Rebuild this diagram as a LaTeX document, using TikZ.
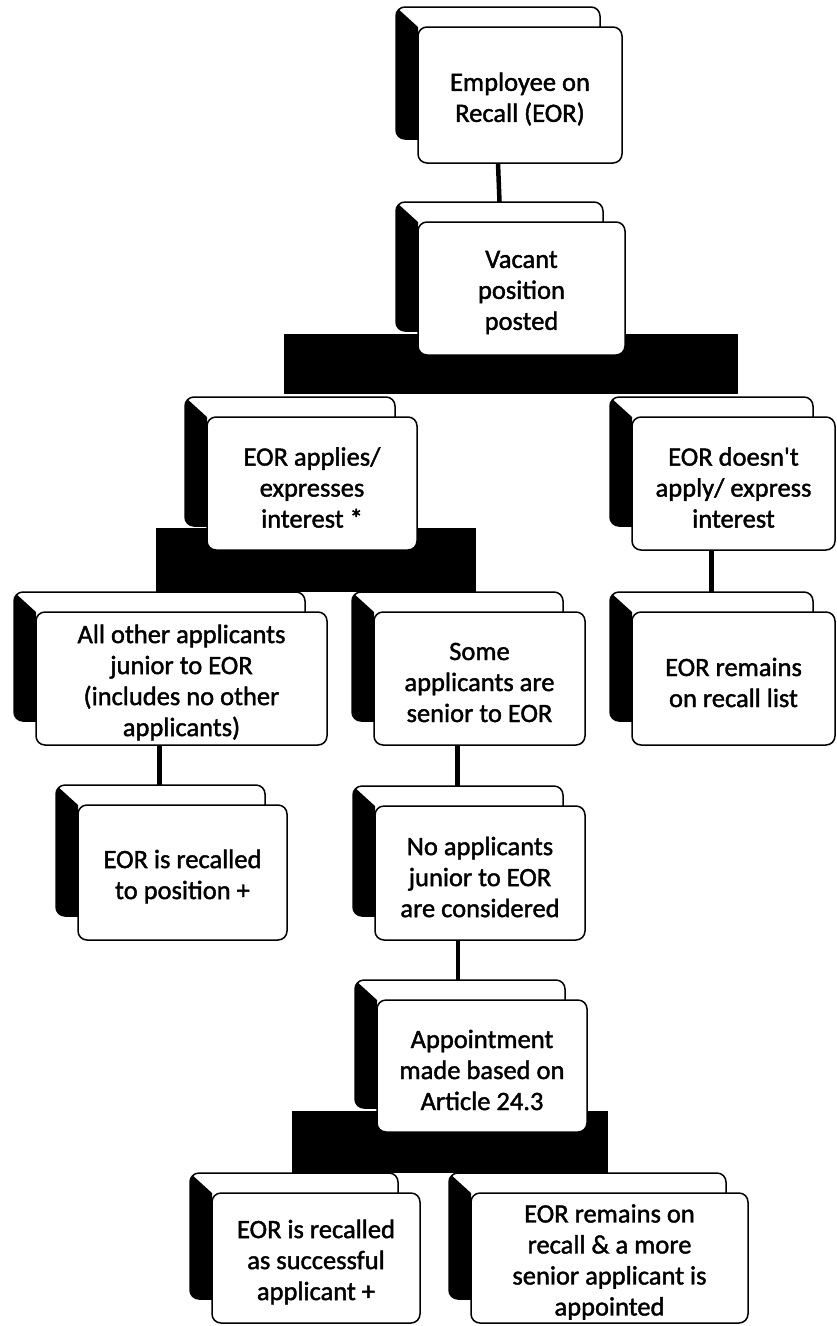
\documentclass[tikz,border=0pt]{standalone}
\usepackage{fontspec}
\setmainfont{Carlito}[Ligatures=TeXOff, FakeBold=1.5]
\usetikzlibrary{calc}
\pgfdeclarelayer{bg}
\pgfdeclarelayer{bars}
\pgfsetlayers{bg,bars,main}
\tikzset{
  boxbase/.style={draw=black, line width=1.5pt, rounded corners=9pt, fill=white, inner sep=0pt, outer sep=0pt},
  backbox/.style={boxbase},
  frontbox/.style={boxbase},
  boxtext/.style={align=center, inner sep=0pt, font=\fontsize{26.5}{31}\selectfont},
  conn/.style={draw=black, line width=4.5pt},
  barfill/.style={fill=black},
}
\newcommand\stackbox[6]{%
 \node[backbox, minimum width={#4-#2}, minimum height={#5-#3-4}] (b#1) at ({(#2+#4)/2-22},{(#3+#5)/2-22}) {};
 \begin{scope}
  \clip[rounded corners=9pt] (b#1.south west) rectangle (b#1.north east);
  \fill (b#1.north west) -- ($(b#1.north west)+(22,20)$) -- ($(b#1.south west)+(22,0)$) -- (b#1.south west) -- cycle;
 \end{scope}
 \node[frontbox, minimum width={#4-#2}, minimum height={#5-#3}] (f#1) at ({(#2+#4)/2},{(#3+#5)/2}) {};
 \node[boxtext] (t#1) at ($(f#1.center)+(0,4)$) {#6};
}
\begin{document}
\begin{tikzpicture}[x=1pt,y=-1pt]
\begin{pgfonlayer}{bg}
\fill[white] (0,0) rectangle (836,1326);
\end{pgfonlayer}
\useasboundingbox (0,0) rectangle (836,1326);
\stackbox{1}{418}{27}{622}{163}{Employee on\\Recall (EOR)}
\stackbox{2}{418}{222}{625}{355}{Vacant\\position\\posted}
\stackbox{3}{207}{417}{417}{550}{EOR applies/\\expresses\\interest *}
\stackbox{4}{632}{417}{835}{550}{EOR doesn't\\apply/ express\\interest}
\stackbox{5}{36}{612}{327}{745}{All other applicants\\junior to EOR\\(includes no other\\applicants)}
\stackbox{6}{374}{612}{585}{745}{Some\\applicants are\\senior to EOR}
\stackbox{7}{632}{612}{835}{745}{EOR remains\\on recall list}
\stackbox{8}{78}{805}{287}{940}{EOR is recalled\\to position +}
\stackbox{9}{375}{806}{585}{940}{No applicants\\junior to EOR\\are considered}
\stackbox{10}{377}{1000}{587}{1132}{Appointment\\made based on\\Article 24.3}
\stackbox{11}{212}{1193}{420}{1323}{EOR is recalled\\as successful\\applicant +}
\stackbox{12}{471}{1193}{748}{1323}{EOR remains on\\recall \& a more\\senior applicant is\\appointed}
% connectors
\draw[conn] (b1.south |- f1.south) -- (b2.north);
\draw[conn] (b4.south |- f4.south) -- (b4.south |- b7.north);
\draw[conn] (b5.south |- f5.south) -- (b5.south |- b8.north);
\draw[conn] (b6.south |- f6.south) -- (b6.south |- b9.north);
\draw[conn] (b9.south |- f9.south) -- (b9.south |- b10.north);
\begin{pgfonlayer}{bars}
\fill[barfill] ($(b3.north |- b2.south)+(-6,3)$) rectangle ($(f4.north |- b3.north)+(4,-3)$);
\fill[barfill] ($(b5.north |- b3.south)+(-4,2)$) rectangle ($(f6.north |- b5.north)+(-4,0)$);
\fill[barfill] ($(b11.north |- b10.south)+(-2,3)$) rectangle ($(f12.north |- b11.north)+(-2,0)$);
\end{pgfonlayer}
\end{tikzpicture}
\end{document}
